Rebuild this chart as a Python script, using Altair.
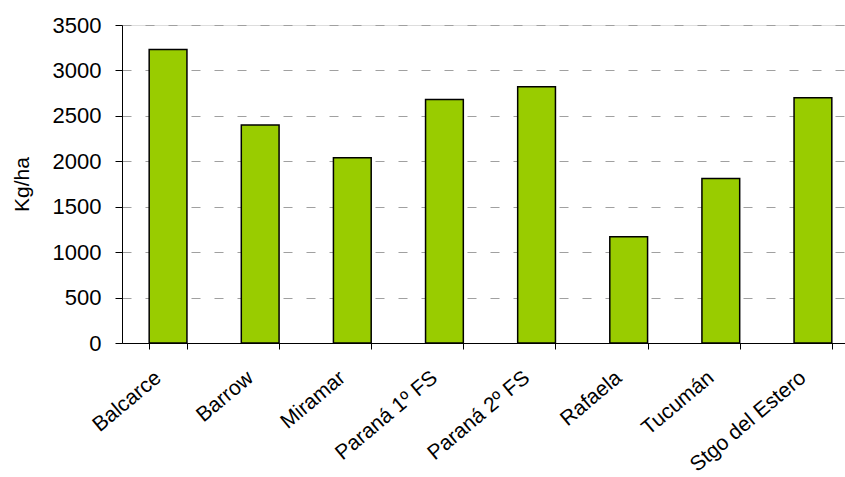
import altair as alt
import pandas as pd

sites = ["Balcarce", "Barrow", "Miramar", "Paraná 1º FS", "Paraná 2º FS",
         "Rafaela", "Tucumán", "Stgo del Estero"]
yields = [3230, 2400, 2040, 2680, 2820, 1170, 1810, 2700]
y_ticks = [0, 500, 1000, 1500, 2000, 2500, 3000, 3500]

df = pd.DataFrame({"site": sites, "kg": yields})

FONT = "Liberation Sans"

chart = alt.Chart(df).mark_bar(
    color="#99CC00", stroke="#000000", strokeWidth=1.5
).encode(
    x=alt.X("site:N", sort=sites, title=None,
            scale=alt.Scale(range=[0, 737], paddingInner=0.59, paddingOuter=0.295),
            axis=alt.Axis(labelAngle=-40, labelAlign="right", labelBaseline="middle",
                          labelFont=FONT, labelFontSize=21, labelColor="#000000",
                          labelPadding=26, labelOffset=-10,
                          tickBand="extent", tickSize=6, tickColor="#000000",
                          domainColor="#000000", domainWidth=1, grid=False,
                          labelOverlap=False)),
    y=alt.Y("kg:Q", title="Kg/ha",
            scale=alt.Scale(domain=[0, 3500], nice=False),
            axis=alt.Axis(values=y_ticks, format="d", labelFont=FONT, labelFontSize=22,
                          labelColor="#000000", labelPadding=14,
                          tickSize=7, tickColor="#000000",
                          domainColor="#000000", domainWidth=1,
                          grid=True, gridColor="#A0A0A0", gridDash=[9, 14],
                          gridWidth=1.2,
                          titleFont=FONT, titleFontSize=21, titleFontWeight="normal",
                          titleColor="#000000", titlePadding=20))
).properties(
    width=723, height=318,
    autosize=alt.AutoSizeParams(type="none"),
    padding={"left": 122, "top": 25, "right": 0, "bottom": 134}
).configure_view(stroke=None).configure(background="#FFFFFF")

chart.save("out.html", embed_options={"renderer": "svg", "actions": False})
